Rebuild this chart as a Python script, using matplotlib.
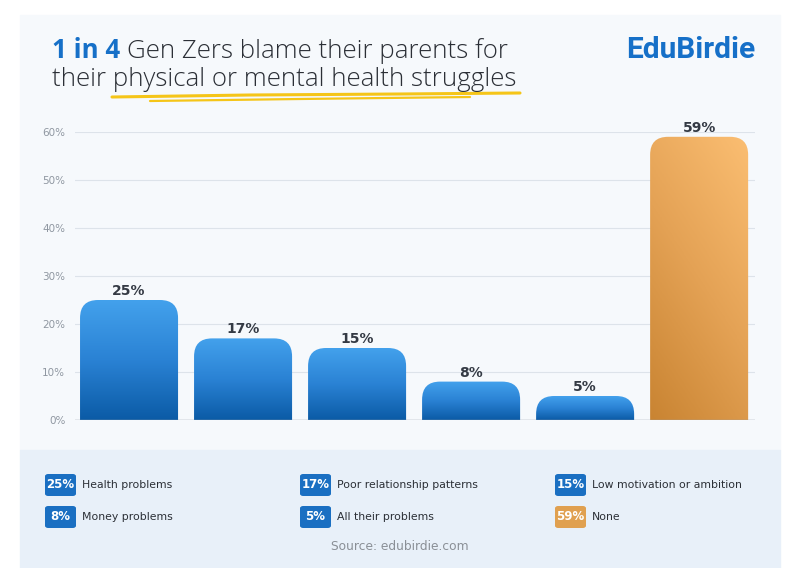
import numpy as np
import matplotlib.pyplot as plt
from matplotlib.path import Path
from matplotlib.patches import PathPatch, Rectangle, FancyBboxPatch
from matplotlib.colors import LinearSegmentedColormap

# 数据
categories = ['Health problems', 'Poor relationship patterns', 'Low motivation or ambition',
              'Money problems', 'All their problems', 'None']
values = [25, 17, 15, 8, 5, 59]
y_ticks = [0, 10, 20, 30, 40, 50, 60]

W, H = 800, 568
fig = plt.figure(figsize=(W / 100, H / 100), dpi=100)
fig.patch.set_facecolor('white')


def fx(px):
    return px / W


def fy(py):
    return 1 - py / H


# 卡片背景
fig.patches.append(Rectangle((fx(20), fy(450)), fx(760), fy(15) - fy(450),
                             transform=fig.transFigure, color='#f6f9fc', zorder=-5))
fig.patches.append(Rectangle((fx(20), fy(568)), fx(760), fy(450) - fy(568),
                             transform=fig.transFigure, color='#e8f0f9', zorder=-5))

# 标题
title_font = ['Open Sans', 'DejaVu Sans']
t1 = fig.text(fx(52), fy(51), '1 in 4', fontsize=18.6, fontweight='bold', color='#1670c8',
              family=title_font, va='center', ha='left')
fig.canvas.draw()
bb = t1.get_window_extent()
fig.text(bb.x1 / W + fx(7), fy(51), 'Gen Zers blame their parents for', fontsize=18.6,
         color='#2b2f36', family=title_font, va='center', ha='left', fontweight='light')
fig.text(fx(52), fy(80), 'their physical or mental health struggles', fontsize=18.6,
         color='#2b2f36', family=title_font, va='center', ha='left', fontweight='light')
fig.text(fx(755), fy(50), 'EduBirdie', fontsize=21.5, fontweight='bold', color='#1670c8',
         family=['Roboto', 'DejaVu Sans'], va='center', ha='right')

# 黄色下划线
ux = np.array([112, 250, 400, 520])
uy = np.array([97, 95, 94, 93])
fig.add_artist(plt.Line2D(fx(ux), fy(uy), color='#f5c518', lw=2.2, solid_capstyle='round'))
ux2 = np.array([150, 300, 470])
uy2 = np.array([101, 99, 97])
fig.add_artist(plt.Line2D(fx(ux2), fy(uy2), color='#f5c518', lw=1.6, solid_capstyle='round'))

# 坐标轴
ax = fig.add_axes([fx(75), fy(420), fx(755) - fx(75), fy(132) - fy(420)])
ax.set_facecolor('none')
ax.set_yticks(y_ticks)
ax.set_yticklabels([f'{t}%' for t in y_ticks])
ax.tick_params(axis='y', length=0, pad=7, labelsize=7.5, labelcolor='#8f97a1')
ax.set_xticks([])
for s in ax.spines.values():
    s.set_visible(False)
ax.grid(axis='y', color='#dde3ea', lw=0.8)
ax.set_axisbelow(True)
ax.axhline(0, color='#9ba3ad', lw=1.0, zorder=3)

blue = LinearSegmentedColormap.from_list('blue', ['#0b5ba6', '#2a82d4', '#43a1ec'])
orange = LinearSegmentedColormap.from_list('orange', ['#c98432', '#e4a255', '#fbbe72'])

bar_w = 98 / 114
rx = 18 / 114
ry = 18 / 4.8

for i, v in enumerate(values):
    x0, x1 = i - bar_w / 2, i + bar_w / 2
    r = min(ry, v)
    verts = [(x0, 0), (x0, v - r), (x0, v), (x0 + rx, v), (x1 - rx, v), (x1, v),
             (x1, v - r), (x1, 0), (x0, 0)]
    codes = [Path.MOVETO, Path.LINETO, Path.CURVE3, Path.CURVE3, Path.LINETO,
             Path.CURVE3, Path.CURVE3, Path.LINETO, Path.CLOSEPOLY]
    patch = PathPatch(Path(verts, codes), facecolor='none', edgecolor='none', zorder=2)
    ax.add_patch(patch)
    if i == len(values) - 1:
        gx, gy = np.meshgrid(np.linspace(0, 1, 50), np.linspace(0, 1, 200))
        grad = 0.65 * gy + 0.35 * gx
        cmap = orange
    else:
        grad = np.linspace(0, 1, 200).reshape(-1, 1)
        cmap = blue
    im = ax.imshow(grad, extent=[x0, x1, 0, v], origin='lower', aspect='auto',
                   cmap=cmap, zorder=2, vmin=0, vmax=1)
    im.set_clip_path(patch)
    ax.annotate(f'{v}%', (i, v), xytext=(0, 6.5), textcoords='offset points',
                ha='center', va='center', fontsize=10, fontweight='semibold',
                color='#343a44', annotation_clip=False)

ax.set_xlim(-0.474, 5.49)
ax.set_ylim(0, 60)

# 图例
leg_x = [45, 300, 555]
leg_y = [485, 517]
for i, (cat, v) in enumerate(zip(categories, values)):
    bx = leg_x[i % 3]
    by = leg_y[i // 3]
    col = '#e0a050' if i == len(values) - 1 else '#1a6fc2'
    fig.patches.append(FancyBboxPatch((fx(bx), fy(by + 11)), fx(31), fy(by - 11) - fy(by + 11),
                                      boxstyle='round,pad=0,rounding_size=0.004',
                                      transform=fig.transFigure, facecolor=col,
                                      edgecolor='none', zorder=2))
    fig.text(fx(bx + 15.5), fy(by), f'{v}%', fontsize=8.5, fontweight='bold', color='white',
             ha='center', va='center')
    fig.text(fx(bx + 37), fy(by), cat, fontsize=7.8, color='#2b2f36', ha='left', va='center')

fig.text(0.5, fy(546), 'Source: edubirdie.com', fontsize=8.8, color='#8a8f96',
         ha='center', va='center')

fig.savefig('out.png', dpi=100)
